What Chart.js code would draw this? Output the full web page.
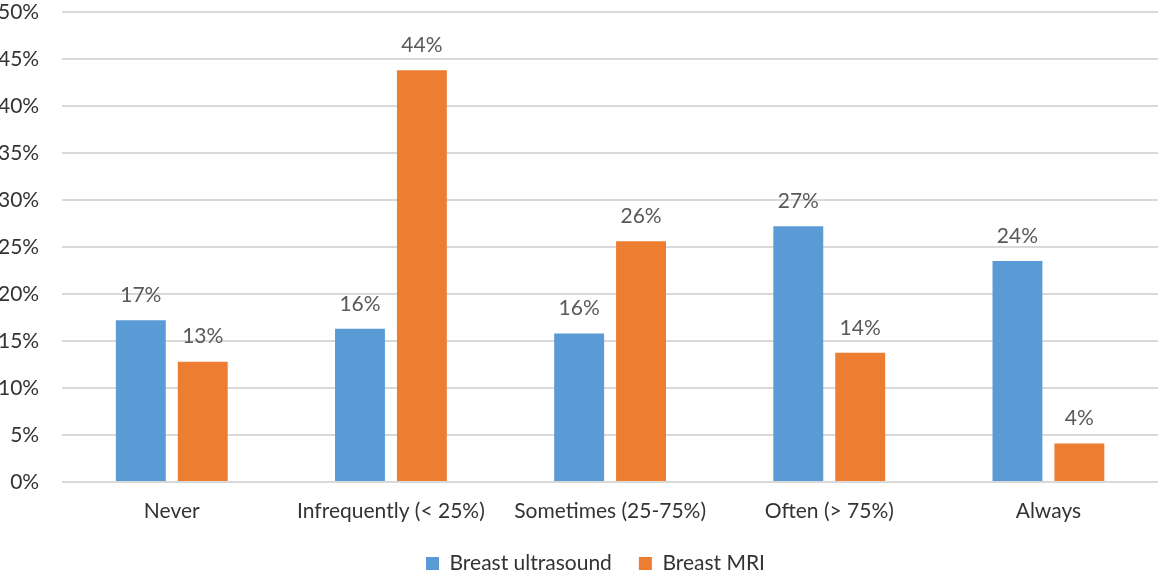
<!DOCTYPE html>
<html>
<head>
<meta charset="utf-8">
<script src="https://cdn.jsdelivr.net/npm/chart.js@4"></script>
<style>
html,body{margin:0;padding:0;background:#fff;overflow:hidden;}
#wrap{width:1158px;height:576px;position:relative;}
</style>
</head>
<body>
<div id="wrap"><canvas id="c" width="1158" height="576"></canvas></div>
<script>
const categories = ["Never", "Infrequently (< 25%)", "Sometimes (25-75%)", "Often (> 75%)", "Always"];
const ultrasound = [17.2, 16.3, 15.8, 27.2, 23.5];
const mri = [12.8, 43.8, 25.6, 13.75, 4.1];
const ultrasoundLabels = ["17%", "16%", "16%", "27%", "24%"];
const mriLabels = ["13%", "44%", "26%", "14%", "4%"];
const yTicks = [0, 5, 10, 15, 20, 25, 30, 35, 40, 45, 50];

const FONT = "Lato, 'Open Sans', sans-serif";
const FS = 21;

const labelPlugin = {
  id: 'barLabels',
  afterLayout(chart) {
    // Excel places this legend slightly right of centre
    if (chart.legend) { chart.legend.left += 29; chart.legend.right += 29; }
  },
  afterDatasetsDraw(chart) {
    const ctx = chart.ctx;
    ctx.save();
    ctx.font = FS + "px " + FONT;
    ctx.fillStyle = "#595959";
    ctx.textAlign = "center";
    ctx.textBaseline = "middle";
    chart.data.datasets.forEach((ds, di) => {
      const meta = chart.getDatasetMeta(di);
      meta.data.forEach((bar, i) => {
        ctx.fillText(ds.valueLabels[i], bar.x, bar.y - 25);
      });
    });
    ctx.restore();
  }
};

new Chart(document.getElementById('c'), {
  type: 'bar',
  data: {
    labels: categories,
    datasets: [
      { label: "Breast ultrasound", data: ultrasound, valueLabels: ultrasoundLabels, backgroundColor: "#5b9bd5", borderWidth: 0 },
      { label: "Breast MRI", data: mri, valueLabels: mriLabels, backgroundColor: "#ed7d31", borderWidth: 0 }
    ]
  },
  options: {
    responsive: false,
    animation: false,
    devicePixelRatio: 1,
    layout: { padding: { top: 0, left: -25, right: 0, bottom: -8 } },
    datasets: { bar: { categoryPercentage: 0.565, barPercentage: 0.806 } },
    plugins: {
      legend: {
        position: 'bottom',
        labels: {
          font: { size: FS, family: FONT },
          color: "#333333",
          boxWidth: 13, boxHeight: 13,
          padding: 27
        }
      },
      tooltip: { enabled: false }
    },
    scales: {
      x: {
        clip: false,
        grid: { display: false, drawTicks: false },
        border: { display: false },
        ticks: { font: { size: FS, family: FONT }, color: "#333333", padding: 17, maxRotation: 0 },
        afterFit(axis) { axis.height = 44; }
      },
      y: {
        min: 0, max: 50,
        afterBuildTicks(axis) { axis.ticks = yTicks.map(v => ({ value: v })); },
        afterFit(axis) { axis.paddingTop = 12; axis.paddingBottom = 0; },
        grid: { color: "#d9d9d9", lineWidth: 2, drawTicks: false },
        border: { display: false },
        ticks: {
          font: { size: FS, family: FONT }, color: "#333333", padding: 23,
          callback: v => v + "%"
        }
      }
    }
  },
  plugins: [labelPlugin]
});
</script>
</body>
</html>
